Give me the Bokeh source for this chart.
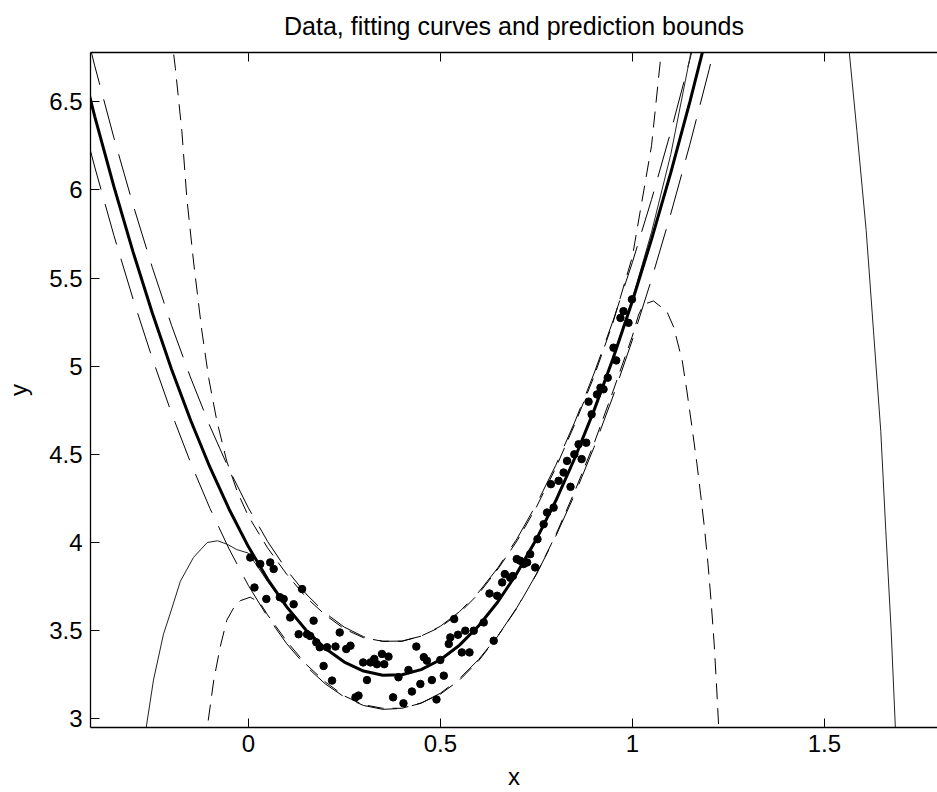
from bokeh.plotting import figure
from bokeh.models import Range1d, FixedTicker, LinearAxis, CustomJSTickFormatter
from bokeh.embed import file_html
from bokeh.resources import INLINE

# ---------------- data ----------------
# measured data points
data_x = [0.005, 0.016, 0.031, 0.047, 0.057, 0.066, 0.082, 0.092, 0.109, 0.118,
          0.131, 0.140, 0.153, 0.161, 0.170, 0.177, 0.186, 0.196, 0.205, 0.218,
          0.227, 0.238, 0.255, 0.266, 0.279, 0.287, 0.299, 0.309, 0.318, 0.328,
          0.335, 0.348, 0.354, 0.365, 0.377, 0.391, 0.404, 0.417, 0.426, 0.4375,
          0.448, 0.457, 0.465, 0.478, 0.490, 0.500, 0.509, 0.522, 0.526, 0.536,
          0.546, 0.556, 0.565, 0.576, 0.587, 0.613, 0.628, 0.639, 0.648, 0.661,
          0.668, 0.682, 0.689, 0.699, 0.708, 0.717, 0.726, 0.734, 0.747, 0.753,
          0.769, 0.778, 0.788, 0.795, 0.808, 0.821, 0.830, 0.839, 0.849, 0.860,
          0.868, 0.880, 0.886, 0.894, 0.908, 0.917, 0.925, 0.936, 0.951, 0.958,
          0.969, 0.977, 0.990, 0.999]
data_y = [3.915, 3.745, 3.878, 3.680, 3.887, 3.850, 3.690, 3.680, 3.575, 3.650,
          3.480, 3.736, 3.480, 3.470, 3.557, 3.434, 3.406, 3.300, 3.406, 3.217,
          3.410, 3.490, 3.396, 3.415, 3.122, 3.132, 3.320, 3.220, 3.320, 3.340,
          3.310, 3.368, 3.310, 3.353, 3.122, 3.236, 3.088, 3.277, 3.155, 3.410,
          3.198, 3.350, 3.330, 3.220, 3.110, 3.334, 3.245, 3.425, 3.462, 3.566,
          3.477, 3.377, 3.500, 3.377, 3.500, 3.547, 3.711, 3.443, 3.698, 3.774,
          3.821, 3.800, 3.810, 3.906, 3.897, 3.878, 3.887, 3.934, 3.859, 4.019,
          4.104, 4.170, 4.331, 4.198, 4.350, 4.397, 4.463, 4.316, 4.500, 4.557,
          4.473, 4.566, 4.799, 4.727, 4.840, 4.878, 4.869, 4.935, 5.105, 5.033,
          5.274, 5.312, 5.246, 5.379]

# first fit (thick) and its prediction bounds (long dashes)
fit1_x = [-0.45, -0.40, -0.35, -0.30, -0.25, -0.20, -0.15, -0.10, -0.05, 0.00,
          0.05, 0.10, 0.15, 0.20, 0.25, 0.30, 0.35, 0.40, 0.45, 0.50,
          0.55, 0.60, 0.65, 0.70, 0.75, 0.80, 0.85, 0.90, 0.95, 1.00,
          1.05, 1.10, 1.15, 1.20, 1.25]
fit1_y = [6.842, 6.417, 6.018, 5.647, 5.302, 4.983, 4.692, 4.427, 4.189, 3.977,
          3.793, 3.635, 3.504, 3.400, 3.322, 3.271, 3.247, 3.250, 3.279, 3.335,
          3.418, 3.528, 3.664, 3.828, 4.018, 4.234, 4.478, 4.748, 5.045, 5.368,
          5.719, 6.096, 6.500, 6.931, 7.388]
fit1_hi = [7.140, 6.704, 6.295, 5.914, 5.560, 5.232, 4.933, 4.660, 4.415, 4.197,
           4.007, 3.844, 3.709, 3.601, 3.520, 3.466, 3.440, 3.441, 3.469, 3.525,
           3.608, 3.719, 3.857, 4.023, 4.216, 4.435, 4.683, 4.957, 5.259, 5.588,
           5.945, 6.329, 6.741, 7.180, 7.646]
fit1_lo = [6.544, 6.130, 5.741, 5.380, 5.044, 4.734, 4.451, 4.194, 3.963, 3.757,
           3.579, 3.426, 3.299, 3.199, 3.124, 3.076, 3.054, 3.059, 3.089, 3.145,
           3.228, 3.337, 3.471, 3.633, 3.820, 4.033, 4.273, 4.539, 4.831, 5.148,
           5.493, 5.863, 6.259, 6.682, 7.131]

# second fit (thin solid)
fit2_x = [-0.28, -0.266, -0.247, -0.221, -0.203, -0.177, -0.143, -0.107, -0.08, -0.055,
          -0.03, 0.00, 0.05, 0.10, 0.15, 0.20, 0.25, 0.30, 0.35, 0.40,
          0.45, 0.50, 0.55, 0.60, 0.65, 0.70, 0.75, 0.80, 0.85, 0.90,
          0.95, 1.00, 1.05, 1.10, 1.15, 1.20, 1.30, 1.40, 1.50, 1.565,
          1.585, 1.609, 1.628, 1.647, 1.660, 1.674, 1.685, 1.70]
fit2_y = [2.85, 2.95, 3.22, 3.48, 3.60, 3.78, 3.915, 4.00, 4.01, 3.99,
          3.96, 3.94, 3.78, 3.63, 3.50, 3.40, 3.32, 3.27, 3.25, 3.25,
          3.28, 3.33, 3.41, 3.52, 3.66, 3.82, 4.01, 4.23, 4.48, 4.75,
          5.05, 5.38, 5.76, 6.20, 6.75, 7.40, 8.60, 9.30, 8.60, 6.78,
          6.33, 5.77, 5.20, 4.63, 4.07, 3.50, 2.95, 2.40]

# prediction bounds of the second fit (short dashes)
fit2_hi_x = [-0.205, -0.195, -0.19, -0.173, -0.16, -0.142, -0.121, -0.103, -0.082, -0.056,
             -0.029, 0.00, 0.05, 0.10, 0.15, 0.20, 0.25, 0.30, 0.35, 0.40,
             0.45, 0.50, 0.55, 0.60, 0.65, 0.70, 0.75, 0.80, 0.85, 0.90,
             0.95, 1.00, 1.05, 1.10]
fit2_hi_y = [7.05, 6.78, 6.69, 6.33, 5.95, 5.58, 5.20, 4.93, 4.69, 4.46,
             4.29, 4.15, 3.97, 3.82, 3.69, 3.59, 3.51, 3.46, 3.44, 3.44,
             3.47, 3.52, 3.60, 3.71, 3.85, 4.01, 4.20, 4.42, 4.67, 4.94,
             5.25, 5.62, 6.25, 7.30]
fit2_lo_x = [-0.112, -0.107, -0.09, -0.073, -0.056, -0.038, -0.021, 0.005, 0.03, 0.05,
             0.10, 0.15, 0.20, 0.25, 0.30, 0.35, 0.40, 0.45, 0.50, 0.55,
             0.60, 0.65, 0.70, 0.75, 0.80, 0.85, 0.90, 0.95, 1.00, 1.016,
             1.029, 1.055, 1.09, 1.108, 1.13, 1.142, 1.155, 1.168, 1.178, 1.188,
             1.197, 1.205, 1.213, 1.219, 1.225, 1.23]
fit2_lo_y = [2.85, 2.95, 3.22, 3.41, 3.56, 3.63, 3.67, 3.69, 3.66, 3.59,
             3.44, 3.31, 3.21, 3.13, 3.08, 3.06, 3.06, 3.09, 3.14, 3.22,
             3.33, 3.47, 3.63, 3.82, 4.04, 4.29, 4.56, 4.86, 5.17, 5.29,
             5.35, 5.37, 5.31, 5.22, 5.03, 4.86, 4.66, 4.45, 4.27, 4.08,
             3.88, 3.67, 3.43, 3.20, 2.95, 2.75]

x_ticks = [0, 0.5, 1, 1.5]
y_ticks = [3, 3.5, 4, 4.5, 5, 5.5, 6, 6.5]
title_text = "Data, fitting curves and prediction bounds"
x_label = "x"
y_label = "y"

FONT = "Liberation Sans"

p = figure(width=937, height=792, output_backend="svg", toolbar_location=None,
           x_range=Range1d(-0.411, 1.7947), y_range=Range1d(2.951, 6.779),
           min_border_left=90, min_border_right=0, min_border_top=51, min_border_bottom=65,
           title=title_text)
p.background_fill_color = "white"
p.border_fill_color = "white"
p.outline_line_color = None
p.grid.visible = False

p.title.text_font = FONT
p.title.text_font_size = "25px"
p.title.text_font_style = "normal"
p.title.text_color = "black"
p.title.align = "center"
p.title.vertical_align = "top"
p.title.standoff = 22

fmt = CustomJSTickFormatter(code="return String(tick)")
blank = CustomJSTickFormatter(code="return ''")

xa = p.xaxis[0]
xa.ticker = FixedTicker(ticks=x_ticks)
xa.formatter = fmt
xa.axis_label = x_label
ya = p.yaxis[0]
ya.ticker = FixedTicker(ticks=y_ticks)
ya.formatter = fmt
ya.axis_label = y_label

for ax in (xa, ya):
    ax.major_tick_in = 9
    ax.major_tick_out = 0
    ax.minor_tick_line_color = None
    ax.axis_line_width = 1.3
    ax.axis_line_color = "black"
    ax.major_tick_line_color = "black"
    ax.major_label_text_font = FONT
    ax.major_label_text_font_size = "24px"
    ax.major_label_text_color = "black"
    ax.axis_label_text_font = FONT
    ax.axis_label_text_font_size = "24px"
    ax.axis_label_text_font_style = "normal"
    ax.axis_label_text_color = "black"

xa.major_label_standoff = 7
xa.axis_label_standoff = 8
ya.major_label_standoff = 8
ya.axis_label_standoff = 14

top = LinearAxis(ticker=FixedTicker(ticks=x_ticks), formatter=blank)
top.major_tick_in = 9
top.major_tick_out = 0
top.minor_tick_line_color = None
top.axis_line_width = 1.3
top.axis_line_color = "black"
top.major_tick_line_color = "black"
top.major_label_standoff = 0
top.axis_label_standoff = 0
p.add_layout(top, "above")

# lines
p.line(fit1_x, fit1_hi, line_color="black", line_width=1, line_dash="42 15")
p.line(fit1_x, fit1_lo, line_color="black", line_width=1, line_dash="42 15")
p.line(fit2_hi_x, fit2_hi_y, line_color="black", line_width=1, line_dash="16 9")
p.line(fit2_lo_x, fit2_lo_y, line_color="black", line_width=1, line_dash="16 9")
p.line(fit2_x, fit2_y, line_color="#222222", line_width=1)
p.line(fit1_x, fit1_y, line_color="black", line_width=3)
p.scatter(data_x, data_y, size=7.5, color="black")

open("out.html", "w").write(file_html(p, INLINE))
